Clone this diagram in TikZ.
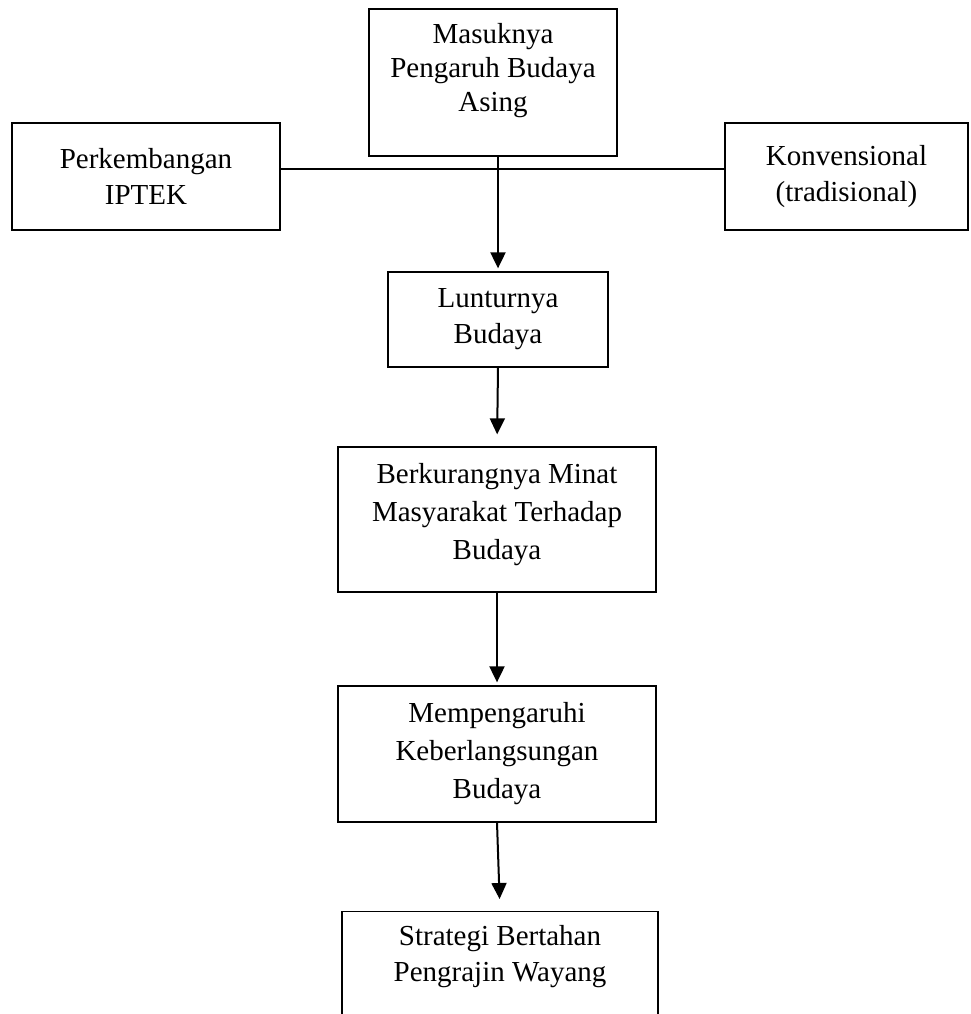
\documentclass[tikz,border=0pt]{standalone}
\usepackage{fontspec}
\setmainfont{Liberation Serif}
\usetikzlibrary{arrows.meta}

\tikzset{
  kotak/.style={draw, line width=1.3pt, inner sep=0pt},
  teks/.style={align=center, inner sep=0pt, font=\fontsize{29}{36}\selectfont},
  panah/.style={line width=2pt, -{Triangle[length=16pt,width=15pt]}},
}

\begin{document}
\begin{tikzpicture}[x=1pt,y=-1pt]
\clip (0,0) rectangle (970,1014);
% kotak atas
\node[kotak, minimum width=248pt, minimum height=147pt] (asing) at (493,82.5) {};
\node[teks, font=\fontsize{29}{34}\selectfont] (asingteks) at (493,71) {Masuknya\\Pengaruh Budaya\\Asing};
\node[kotak, teks, minimum width=268pt, minimum height=107pt] (iptek) at (146,176.5) {Perkembangan\\IPTEK};
\node[kotak, teks, minimum width=243pt, minimum height=107pt] (konv) at (846.5,176.5) {Konvensional\\(tradisional)};
\draw[line width=1.3pt] ([yshift=7.5pt]iptek.east) -- ([yshift=7.5pt]konv.west);
% alur ke bawah
\node[kotak, teks, minimum width=220pt, minimum height=95pt] (luntur) at (498,319.5) {Lunturnya\\Budaya};
\node[kotak, minimum width=318pt, minimum height=145pt] (minat) at (497,519.5) {};
\node[teks, font=\fontsize{29}{38}\selectfont] (minatteks) at (497,515) {Berkurangnya Minat\\Masyarakat Terhadap\\Budaya};
\node[kotak, teks, font=\fontsize{29}{38}\selectfont, minimum width=318pt, minimum height=136pt] (lestari) at (497,754) {Mempengaruhi\\Keberlangsungan\\Budaya};
\node[kotak, minimum width=316pt, minimum height=130pt, anchor=north] (strategi) at (500,911) {};
\node[teks] (strategiteks) at (500,957) {Strategi Bertahan\\Pengrajin Wayang};

\draw[panah, shorten >=3pt] (asing.south -| luntur.north) -- (luntur.north);
\draw[panah, shorten >=12pt] (luntur.south) -- (minat.north);
\draw[panah, shorten >=3pt] (minat.south) -- (lestari.north);
\draw[panah, shorten >=12pt] (lestari.south) -- (strategi.north);
\end{tikzpicture}
\end{document}
